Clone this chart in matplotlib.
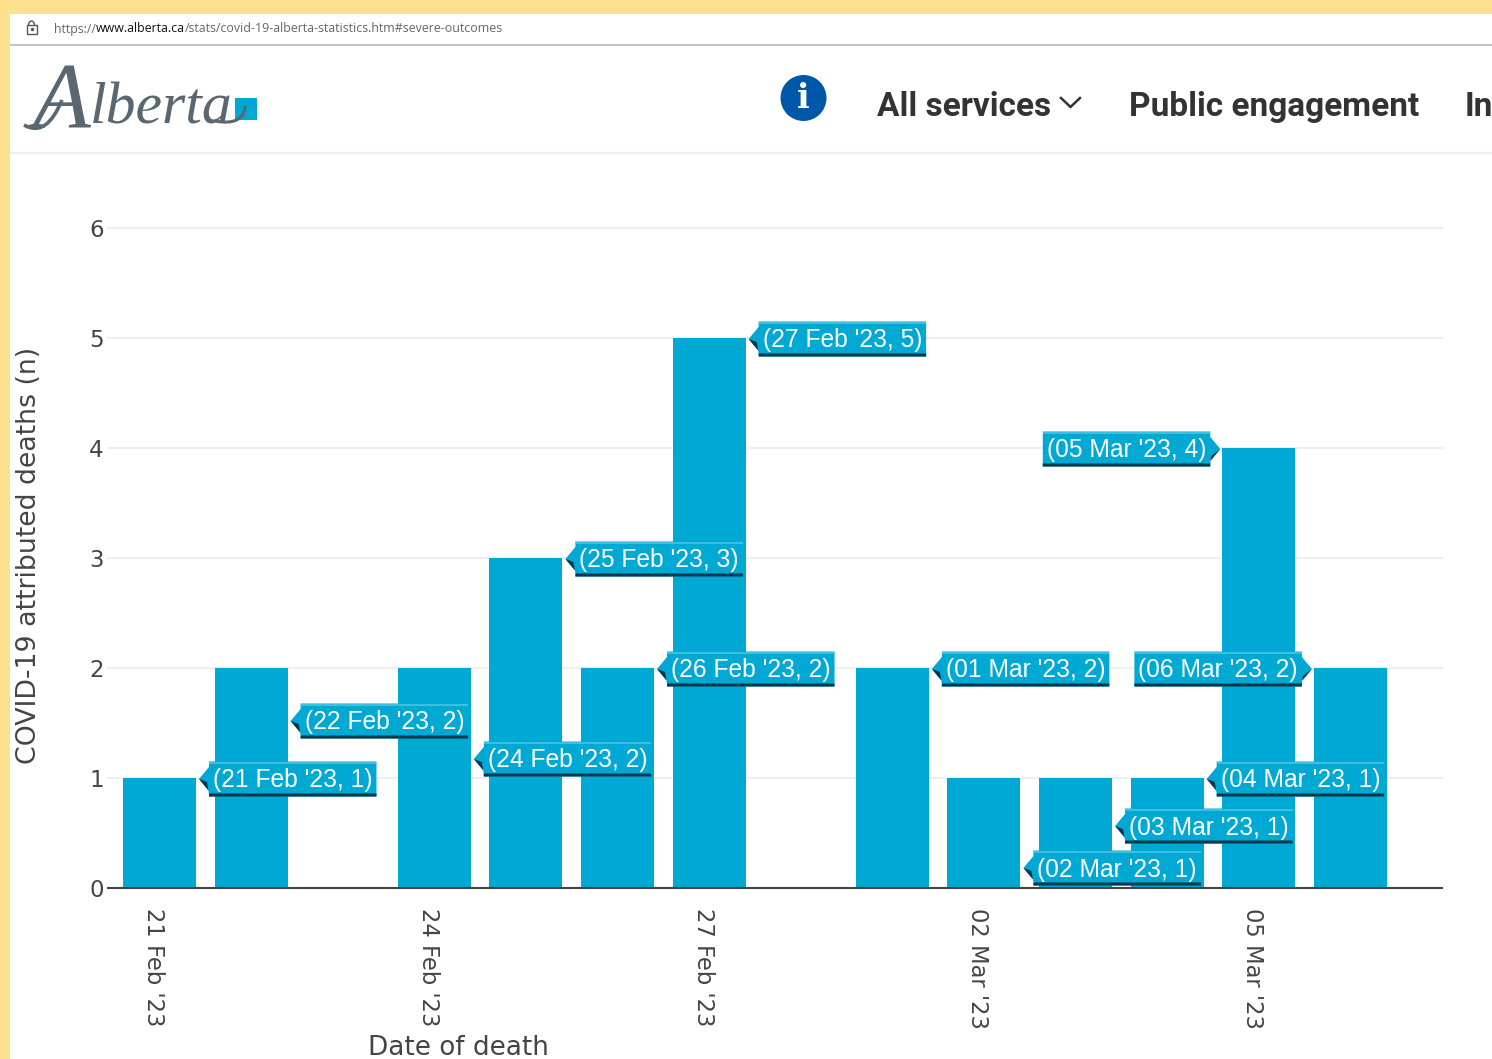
import matplotlib
matplotlib.use("Agg")
import matplotlib.pyplot as plt
from matplotlib.patches import Polygon, Rectangle, Ellipse, Arc, PathPatch
from matplotlib.path import Path
from matplotlib.transforms import ScaledTranslation

W, H = 1492, 1059
# ---- data ----
dates = ["21 Feb '23", "22 Feb '23", "23 Feb '23", "24 Feb '23", "25 Feb '23", "26 Feb '23", "27 Feb '23",
         "28 Feb '23", "01 Mar '23", "02 Mar '23", "03 Mar '23", "04 Mar '23", "05 Mar '23", "06 Mar '23"]
deaths = [1, 2, 0, 2, 3, 2, 5, 0, 2, 1, 1, 1, 4, 2]
labelled = [0, 1, 3, 4, 5, 6, 8, 9, 10, 11, 12, 13]
label_side = ["r", "r", "r", "r", "r", "r", "r", "r", "r", "r", "l", "l"]
label_dy = [0, 52, 90, 0, 0, 0, 0, 89, 47, 0, 0, 0]
y_ticks = [0, 1, 2, 3, 4, 5, 6]
x_tick_idx = [0, 3, 6, 9, 12]

BLUE = "#00A9D3"
DARK = "#444444"
YELLOW = "#FFE08E"
AXFONT = "DejaVu Sans"

fig = plt.figure(figsize=(W / 100, H / 100), dpi=100, facecolor="white")

# ---- chart ----
L, R, T, B = 108, 1442, 228, 888
ax = fig.add_axes([L / W, 1 - B / H, (R - L) / W, (B - T) / H], facecolor="none")
ax.set_xlim(-0.562, 14.0)
ax.set_ylim(0, 6)
ax.bar(range(len(deaths)), deaths, width=0.797, color=BLUE, zorder=3)
for side in ("top", "right", "left"):
    ax.spines[side].set_visible(False)
ax.spines["bottom"].set_color(DARK)
ax.spines["bottom"].set_linewidth(1.5)
ax.spines["bottom"].set_zorder(4)
ax.set_yticks(y_ticks)
ax.grid(axis="y", color="#EEEEEE", linewidth=1.5, zorder=0)
for gl in ax.get_ygridlines():
    gl.set_clip_on(False)
ax.tick_params(axis="y", length=0, pad=3, labelsize=16.5, labelcolor=DARK)
ax.set_xticks(x_tick_idx)
ax.set_xticklabels([dates[i] for i in x_tick_idx], rotation=-90, fontsize=16.3, color=DARK, ha="center", va="top")
ax.tick_params(axis="x", length=0, pad=14.5)
shift = ScaledTranslation(-6 / 100, 0, fig.dpi_scale_trans)
for t in ax.get_xticklabels():
    t.set_transform(t.get_transform() + shift)
for t in ax.get_xticklabels() + ax.get_yticklabels():
    t.set_family(AXFONT)
fig.text(458 / W, 1 - 1048 / H, "Date of death", fontsize=18.9, color=DARK, family=AXFONT, ha="center", va="center")
fig.text(29 / W, 1 - 555 / H, "COVID-19 attributed deaths (n)", fontsize=19.3, color=DARK, family=AXFONT,
         rotation=90, ha="center", va="center")

# ---- overlay in pixel coordinates ----
ov = fig.add_axes([0, 0, 1, 1], facecolor="none", zorder=5)
ov.set_xlim(0, W)
ov.set_ylim(H, 0)
ov.axis("off")

fig.canvas.draw()
def to_px(x, y):
    px, py = ax.transData.transform((x, y))
    return px, H - py

# data labels
for idx, side, dy in zip(labelled, label_side, label_dy):
    cx, cy = to_px(idx, deaths[idx])
    cy += dy + 1
    bw = 167.5
    if side == "r":
        x0, x1 = cx + 49.5, cx + 49.5 + bw
        tip = x0 - 10
    else:
        x1, x0 = cx - 48.5, cx - 48.5 - bw
        tip = x1 + 10
    y0, y1 = cy - 17.5, cy + 17.5
    if side == "r":
        pts = [(x0, y0), (x1, y0), (x1, y1), (x0, y1), (x0, cy + 12), (tip, cy), (x0, cy - 12)]
        shadow = [(x0, y1 - 3), (x1, y1 - 3), (x1, y1), (x0, y1), (x0, cy + 12), (tip, cy), (x0 - 2, cy + 3)]
    else:
        pts = [(x0, y0), (x1, y0), (x1, cy - 12), (tip, cy), (x1, cy + 12), (x1, y1), (x0, y1)]
        shadow = [(x0, y1 - 3), (x1, y1 - 3), (x1 + 1, cy + 7), (tip, cy), (x1, cy + 12), (x1, y1), (x0, y1)]
    ov.add_patch(Polygon(pts, closed=True, fc=BLUE, ec="none", zorder=6))
    ov.add_patch(Polygon(shadow, closed=True, fc="#07384C", ec="none", zorder=7))
    ov.plot([x0, x1], [y0 + 1, y0 + 1], color="#4CC4E2", lw=1.2, zorder=8, solid_capstyle="butt")
    ov.text((x0 + x1) / 2, cy + 1.5, f"({dates[idx]}, {deaths[idx]})", color="white", fontsize=17.7,
            family="Liberation Sans", ha="center", va="center", zorder=9)

# page frame
ov.add_patch(Rectangle((0, 0), W, 14, fc=YELLOW, ec="none", zorder=20))
ov.add_patch(Rectangle((0, 0), 10, H, fc=YELLOW, ec="none", zorder=20))
ov.plot([10, W], [45, 45], color="#BDBDBD", lw=1.3, zorder=10)
ov.plot([10, W], [153, 153], color="#EFEFEF", lw=1.6, zorder=10)

# address bar
ov.add_patch(Rectangle((26.5, 25), 10, 8.5, fc="none", ec="#555555", lw=1, zorder=10))
ov.add_patch(Arc((31.5, 25), 6, 8, theta1=180, theta2=360, ec="#555555", lw=1, zorder=10))
ov.plot([31.5], [29.3], marker="o", ms=1.5, color="#555555", zorder=10)
url_parts = [(54, "https://", "#666666"), (96, "www.alberta.ca", "#111111"),
             (185, "/stats/covid-19-alberta-statistics.htm#severe-outcomes", "#666666")]
for ux, part, col in url_parts:
    ov.text(ux, 29, part, fontsize=8.95, color=col, family="Open Sans", ha="left", va="center", zorder=10)

# logo
LOGO = "#5B6770"
ov.add_patch(Rectangle((235, 98), 22, 22, fc="#00A9D3", ec="none", zorder=10))
ov.text(32, 128, "A", fontsize=68, style="italic", family="Liberation Serif", color=LOGO, ha="left", va="baseline", zorder=11)
ov.text(90, 124, "lberta", fontsize=43, style="italic", family="Liberation Serif", color=LOGO, ha="left", va="baseline", zorder=11)
swoosh = Path([(24, 125), (40, 134), (52, 124), (62, 100)], [Path.MOVETO, Path.CURVE4, Path.CURVE4, Path.CURVE4])
ov.add_patch(PathPatch(swoosh, fc="none", ec=LOGO, lw=2.6, zorder=11))
tail = Path([(215, 121), (235, 125), (245, 118), (245, 106)], [Path.MOVETO, Path.CURVE4, Path.CURVE4, Path.CURVE4])
ov.add_patch(PathPatch(tail, fc="none", ec=LOGO, lw=2.2, zorder=12))

# navigation
ov.add_patch(Ellipse((803.5, 98), 46, 46, fc="#0057A8", ec="none", zorder=10))
ov.text(803.5, 98, "i", fontsize=24, fontweight="bold", family="DejaVu Serif", color="white", ha="center", va="center", zorder=11)
NAV = "#333333"
for nx, s in [(877, "All services"), (1129, "Public engagement"), (1465, "In")]:
    ov.text(nx, 107, s, fontsize=24, fontweight="bold", family="Roboto", color=NAV, ha="left", va="center", zorder=10, clip_on=True)
ov.plot([1061, 1070.5, 1080], [98, 107, 98], color=NAV, lw=1.8, zorder=10)

fig.savefig("out.png", dpi=100, facecolor="white")
